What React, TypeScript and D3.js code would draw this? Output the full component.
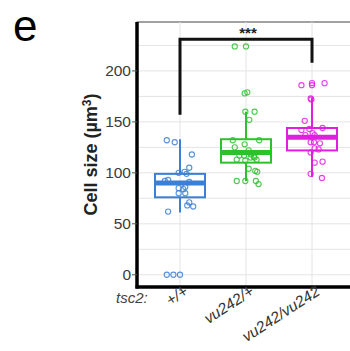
import * as d3 from 'd3';

// categories (genotypes of tsc2)
const categories: string[] = ['+/+', 'vu242/+', 'vu242/vu242'];
const colors: string[] = ['#3b7fd6', '#2ec12e', '#e01fe0'];

// box statistics: [lowWhisker, q1, median, q3, highWhisker]
const boxStats: number[][] = [
  [61, 76, 90, 99, 133],
  [92, 110, 120, 133, 160],
  [96, 122, 135, 144, 174],
];

// cell sizes of individual cells (µm³)
const wtValues: number[] = [132, 130, 118, 105, 100, 101, 99, 92, 93, 91, 85, 86, 84, 80, 80, 71, 68, 67, 62, 0, 0, 0];
const hetValues: number[] = [224, 224, 179, 178, 160, 160, 152, 132, 132, 125, 128, 122, 118, 115, 117, 117, 116, 113, 113, 115, 112, 104, 102, 101, 92, 92, 92, 89];
const homValues: number[] = [186, 188, 186, 188, 173, 172, 151, 142, 143, 144, 137, 139, 137, 130, 129, 130, 124, 123, 120, 111, 110, 99, 95];
// horizontal jitter, as a fraction of the gap between categories
const wtJitter: number[] = [-0.2, -0.08, 0.18, 0.14, -0.02, 0.07, 0.1, -0.23, -0.18, 0.14, -0.02, 0.08, 0.05, -0.02, 0.08, 0.14, 0.11, 0.2, -0.18, -0.2, -0.1, 0];
const hetJitter: number[] = [-0.17, 0, 0.02, -0.02, -0.01, 0.13, 0.05, -0.2, 0.2, -0.17, -0.02, 0.04, 0.08, 0.13, -0.1, -0.03, 0.12, -0.14, 0.16, 0.07, -0.01, 0.04, 0.14, 0.17, -0.14, -0.01, 0.15, 0.19];
const homJitter: number[] = [-0.16, 0, 0, 0.19, -0.02, -0.01, -0.11, -0.16, -0.04, 0.16, -0.1, 0.01, 0.04, -0.02, 0.12, 0.03, 0.04, 0.1, -0.02, 0.16, 0.04, -0.02, 0.15];
const groupValues: number[][] = [wtValues, hetValues, homValues];
const groupJitter: number[][] = [wtJitter, hetJitter, homJitter];

const yTicks: number[] = [0, 50, 100, 150, 200];
const yGrid: number[] = [0, 25, 50, 75, 100, 125, 150, 175, 200, 225];
// significance bracket: [bar height, left leg end, right leg end]
const bracket: number[] = [231, 157, 208];
const sigLabel = '***';

export default function App() {
  const W = 350;
  const H = 351;
  const left = 137;
  const top = 22;
  const bottom = 287;

  const x = d3.scalePoint<string>().domain(categories).range([180, 312]);
  const step = x.step();
  const y = d3.scaleLinear().domain([-12, 248]).range([bottom, top]);
  const boxHalf = 25;
  const font = 'Arial, "Liberation Sans", sans-serif';

  const bx0 = x(categories[0])!;
  const bx2 = x(categories[2])!;

  return (
    <div style={{ position: 'fixed', left: 0, top: 0 }}>
      <svg width={W} height={H} style={{ display: 'block', background: '#fff' }} fontFamily={font}>
        <text x={13} y={41} fontSize={44}>e</text>

        {/* panel */}
        <rect x={left} y={top} width={W - left + 5} height={bottom - top} fill="#fff" stroke="#444" strokeWidth={1} />
        {yGrid.map(v => (
          <line key={'g' + v} x1={left} x2={W} y1={y(v)} y2={y(v)} stroke="#e4e4e4" strokeWidth={1} />
        ))}
        {categories.map(c => (
          <line key={'v' + c} x1={x(c)} x2={x(c)} y1={top} y2={bottom} stroke="#e4e4e4" strokeWidth={1} />
        ))}

        {/* boxes */}
        {categories.map((c, i) => {
          const cx = x(c)!;
          const [lo, q1, med, q3, hi] = boxStats[i];
          return (
            <g key={'b' + c} stroke={colors[i]} fill="none">
              <line x1={cx} x2={cx} y1={y(hi)} y2={y(q3)} strokeWidth={2} />
              <line x1={cx} x2={cx} y1={y(q1)} y2={y(lo)} strokeWidth={2} />
              <rect x={cx - boxHalf} y={y(q3)} width={boxHalf * 2} height={y(q1) - y(q3)} strokeWidth={2} />
              <line x1={cx - boxHalf} x2={cx + boxHalf} y1={y(med)} y2={y(med)} strokeWidth={5} />
            </g>
          );
        })}

        {/* points */}
        {groupValues.map((vals, i) =>
          vals.map((v, j) => (
            <circle
              key={`p${i}-${j}`}
              cx={x(categories[i])! + groupJitter[i][j] * step}
              cy={y(v)}
              r={2.6}
              fill="none"
              stroke={colors[i]}
              strokeWidth={1.1}
              opacity={0.85}
            />
          ))
        )}

        {/* significance bracket */}
        <path
          d={`M${bx0},${y(bracket[1])}V${y(bracket[0])}H${bx2}V${y(bracket[2])}`}
          fill="none"
          stroke="#111"
          strokeWidth={3}
        />
        <text x={(bx0 + bx2) / 2 + 2} y={y(bracket[0]) - 1} textAnchor="middle" fontSize={15} fontWeight="bold" fill="#222">{sigLabel}</text>

        {/* axes */}
        <line x1={left} x2={left} y1={top} y2={bottom + 1.5} stroke="#000" strokeWidth={3.5} />
        <line x1={left - 1.5} x2={W} y1={bottom} y2={bottom} stroke="#000" strokeWidth={3.5} />
        {yTicks.map(v => (
          <g key={'t' + v}>
            <line x1={left - 5} x2={left} y1={y(v)} y2={y(v)} stroke="#555" strokeWidth={1} />
            <text x={left - 6} y={y(v)} dy="0.35em" textAnchor="end" fontSize={15.5} fill="#3a3a3a">{v}</text>
          </g>
        ))}
        {categories.map(c => (
          <line key={'xt' + c} x1={x(c)} x2={x(c)} y1={bottom} y2={bottom + 4} stroke="#555" strokeWidth={1} />
        ))}
        {categories.map(c => (
          <text
            key={'xl' + c}
            transform={`translate(${x(c)! + 9},${bottom + 7}) rotate(-33)`}
            textAnchor="end"
            fontSize={15.5}
            fontStyle="italic"
            fill="#333"
          >
            {c}
          </text>
        ))}
        <text x={116} y={303} fontSize={15} fontStyle="italic" fill="#444">tsc2:</text>

        <text
          transform={`translate(97,${y(118)}) rotate(-90)`}
          textAnchor="middle"
          fontSize={18}
          fontWeight="bold"
          fill="#222"
        >
          Cell size (µm<tspan dy={-6} fontSize={12}>3</tspan><tspan dy={6}>)</tspan>
        </text>
      </svg>
    </div>
  );
}
